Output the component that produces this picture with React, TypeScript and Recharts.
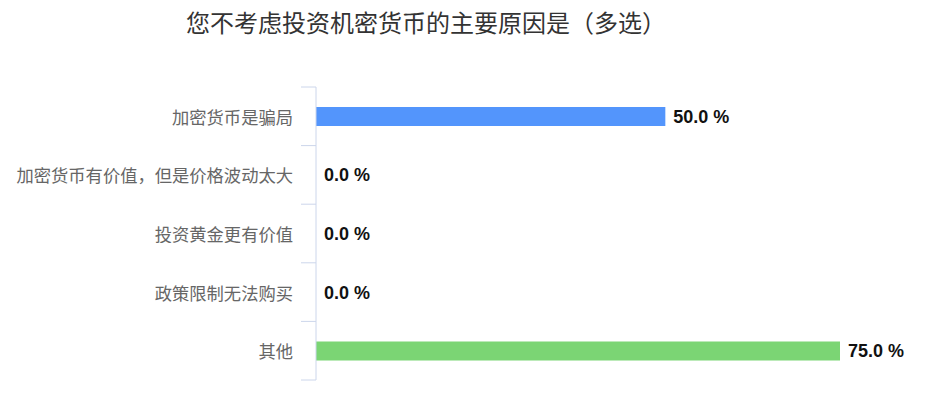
import { BarChart, Bar, XAxis, YAxis, Cell, LabelList } from "recharts";

const categories = [
  "加密货币是骗局",
  "加密货币有价值，但是价格波动太大",
  "投资黄金更有价值",
  "政策限制无法购买",
  "其他",
];
const percents = [50, 0, 0, 0, 75];
const barColors = ["#5395fc", "#5395fc", "#5395fc", "#5395fc", "#7bd574"];

const data = categories.map((name, i) => ({ name, value: percents[i] }));

const CJK = '"Noto Sans CJK SC", "Noto Sans", sans-serif';
const AXIS_COLOR = "#ccd6eb";
const TICK_SIZE = 15;
const TICK_MARGIN = 8;

// category label plus a tick mark on each band boundary (Highcharts style)
function CategoryTick(props: any) {
  const { x, y, payload, index, visibleTicksCount } = props;
  const half = payload.offset || 0;
  const x1 = x + TICK_MARGIN;
  const x2 = x1 + TICK_SIZE;
  return (
    <g>
      <line x1={x1} x2={x2} y1={y - half} y2={y - half} stroke={AXIS_COLOR} />
      {index === visibleTicksCount - 1 && (
        <line x1={x1} x2={x2} y1={y + half} y2={y + half} stroke={AXIS_COLOR} />
      )}
      <text
        x={x}
        y={y}
        textAnchor="end"
        dominantBaseline="central"
        fontSize={17.3}
        fill="#666"
        fontFamily={CJK}
      >
        {payload.value}
      </text>
    </g>
  );
}

export default function App() {
  return (
    <div
      style={{
        position: "absolute",
        left: 0,
        top: 0,
        width: 943,
        height: 402,
        background: "#fff",
        fontFamily: CJK,
      }}
    >
      <div
        style={{
          position: "absolute",
          left: 186,
          top: 10,
          fontSize: 24,
          lineHeight: "24px",
          color: "#333",
          whiteSpace: "nowrap",
        }}
      >
        您不考虑投资机密货币的主要原因是（多选）
      </div>
      <BarChart
        width={943}
        height={402}
        data={data}
        layout="vertical"
        margin={{ top: 87, right: 103, bottom: 22, left: 0 }}
        barSize={19}
      >
        <XAxis type="number" domain={[0, 75]} hide />
        <YAxis
          type="category"
          dataKey="name"
          width={316}
          axisLine={{ stroke: AXIS_COLOR }}
          tickLine={false}
          tickSize={TICK_SIZE}
          tickMargin={TICK_MARGIN}
          tick={<CategoryTick />}
          interval={0}
        />
        <Bar dataKey="value" isAnimationActive={false} minPointSize={0.001}>
          {data.map((d, i) => (
            <Cell key={d.name} fill={barColors[i]} />
          ))}
          <LabelList
            dataKey="value"
            position="right"
            offset={8}
            formatter={(v: number) => `${Number(v).toFixed(1)} %`}
            style={{
              fontSize: 18,
              fontWeight: "bold",
              fill: "#111",
              fontFamily: '"Liberation Sans", Arial, sans-serif',
            }}
          />
        </Bar>
      </BarChart>
    </div>
  );
}
